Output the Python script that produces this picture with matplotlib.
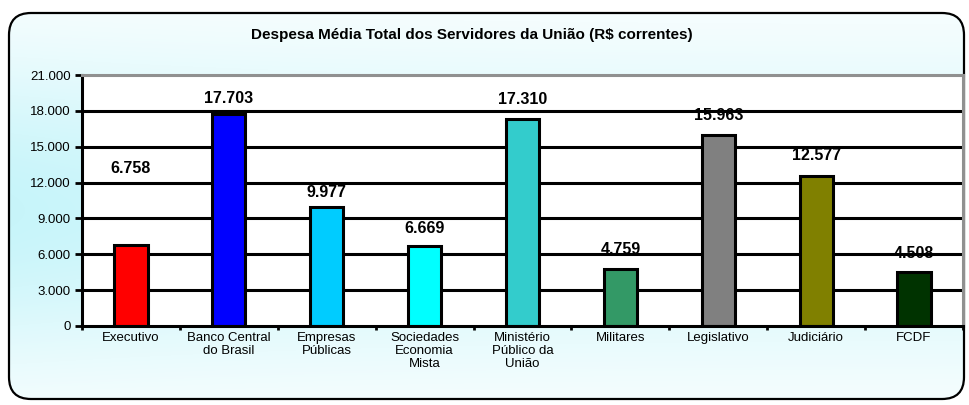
import numpy as np
import matplotlib
matplotlib.use("Agg")
import matplotlib.pyplot as plt
from matplotlib.patches import FancyBboxPatch

plt.rcParams['font.family'] = ['Liberation Sans', 'DejaVu Sans']

# data
categories = ["Executivo", "Banco Central\ndo Brasil", "Empresas\nPúblicas",
              "Sociedades\nEconomia\nMista", "Ministério\nPúblico da\nUnião",
              "Militares", "Legislativo", "Judiciário", "FCDF"]
values = [6758, 17703, 9977, 6669, 17310, 4759, 15963, 12577, 4508]
yticks = [0, 3000, 6000, 9000, 12000, 15000, 18000, 21000]
title = "Despesa Média Total dos Servidores da União (R$ correntes)"

# styles
colors = ["#ff0000", "#0000ff", "#00ccff", "#00ffff", "#33cccc",
          "#339966", "#808080", "#808000", "#003300"]
label_offset = [6460, 1370, 1230, 1530, 1600, 1600, 1610, 1650, 1520]


def fmt(v):
    return f"{v:,}".replace(",", ".")


fig = plt.figure(figsize=(9.7, 4.05), dpi=100)
fig.patch.set_facecolor("white")

# background gradient inside the rounded frame
bg = fig.add_axes([0, 0, 1, 1], zorder=-2)
bg.set_xlim(0, 970)
bg.set_ylim(405, 0)
bg.axis("off")
yy, xx = np.mgrid[0:405, 0:970]
w = np.exp(-((yy - 210) / 160.0) ** 2) * (0.75 + 0.25 * np.exp(-(xx / 300.0)))
cyan = np.array([0.78, 0.96, 0.98])
img = 1 - w[..., None] * (1 - cyan)
im = bg.imshow(img, extent=(0, 970, 405, 0), aspect="auto")
box = dict(boxstyle="round,pad=0,rounding_size=22")
frame = FancyBboxPatch((9, 13), 955, 386, facecolor="none", edgecolor="black",
                       linewidth=1.6, **box)
bg.add_patch(frame)
clip = FancyBboxPatch((9, 13), 955, 386, transform=bg.transData,
                      facecolor="none", edgecolor="none", **box)
bg.add_patch(clip)
im.set_clip_path(clip)

fig.text(472 / 970, 1 - 35 / 405, title, ha="center", va="center",
         fontsize=11, fontweight="bold")

ax = fig.add_axes([82 / 970, 79 / 405, 881 / 970, 251 / 405])
ax.set_facecolor("white")
x = np.arange(len(categories))
ax.set_xlim(-0.5, len(categories) - 0.5)
ax.set_ylim(0, 21000)

for t in yticks[1:-1]:
    ax.axhline(t, color="black", lw=2.2, zorder=1)

ax.bar(x, values, width=0.34, color=colors, edgecolor="black", linewidth=2.2, zorder=2)

for xi, v, off in zip(x, values, label_offset):
    ax.text(xi, v + off, fmt(v), ha="center", va="center", fontsize=11.5,
            fontweight="bold", zorder=0.5)

ax.set_yticks(yticks)
ax.set_yticklabels([fmt(t) for t in yticks], fontsize=9.5)
ax.set_xticks(x)
ax.set_xticklabels(categories, fontsize=9.5, linespacing=1.12)
ax.set_xticks(np.arange(-0.5, len(categories)), minor=True)
ax.tick_params(axis="x", which="major", length=0, pad=4)
ax.tick_params(axis="x", which="minor", length=3, width=2, direction="out")
ax.tick_params(axis="y", length=5, width=2, direction="out", pad=3)

ax.spines["left"].set_linewidth(2.2)
ax.spines["bottom"].set_linewidth(2.2)
ax.spines["top"].set_color("#909090")
ax.spines["top"].set_linewidth(2.2)
ax.spines["right"].set_color("#909090")
ax.spines["right"].set_linewidth(2.2)

fig.savefig("out.png", dpi=100)
